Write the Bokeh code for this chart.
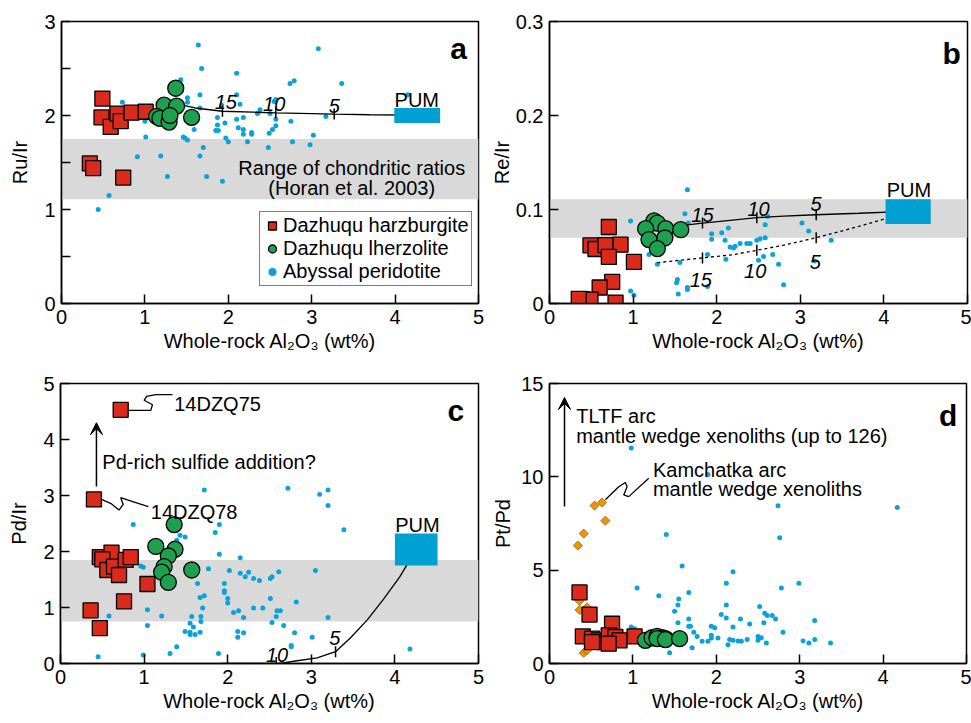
import math
from bokeh.plotting import figure
from bokeh.models import Range1d, FixedTicker, Legend, LegendItem, Arrow, VeeHead, BoxAnnotation
from bokeh.layouts import column, row
from bokeh.embed import file_html
from bokeh.resources import INLINE
from bokeh.core.properties import value

FONT = "Liberation Sans"
RED = "#DA2A1C"
GREEN = "#1DA050"
BLUE = "#0AA3D9"
PUMC = "#00A0D2"
ORANGE = "#F39200"
BAND = "#D9D9D9"

# ---------------- panel a : Ru/Ir ----------------
a_harz_x = [0.49, 0.48, 0.59, 0.67, 0.71, 0.84, 1.01, 0.34, 0.38, 0.74]
a_harz_y = [2.18, 1.98, 1.88, 2.02, 1.94, 2.03, 2.04, 1.49, 1.44, 1.34]
a_lherz_x = [1.37, 1.23, 1.38, 1.14, 1.18, 1.29, 1.30, 1.56]
a_lherz_y = [2.29, 2.11, 2.10, 1.99, 1.97, 1.93, 2.00, 1.98]
a_aby_x = [1.64, 3.08, 1.68, 2.10, 1.43, 3.36, 2.79, 2.74, 2.10, 1.66, 4.15, 1.51, 0.73, 2.14, 1.51,
           1.92, 1.66, 2.55, 2.57, 2.38, 2.35, 2.50, 1.87, 2.18, 2.10, 2.57, 3.17, 1.00, 1.96, 1.87,
           2.75, 2.57, 1.59, 2.12, 2.18, 1.85, 1.88, 2.53, 2.28, 2.28, 2.18, 2.49, 1.46, 1.48, 1.51,
           1.01, 3.02, 1.97, 2.00, 2.23, 2.77, 2.98, 1.70, 2.48, 0.91, 1.66, 1.19, 1.27, 1.74, 1.93,
           0.57, 0.44]
a_aby_y = [2.75, 2.71, 2.50, 2.45, 2.38, 2.34, 2.37, 2.34, 2.22, 2.22, 2.22, 2.19, 2.14, 2.12, 2.14,
           2.11, 2.08, 2.15, 2.17, 2.06, 2.02, 2.02, 1.98, 1.98, 1.96, 1.96, 1.99, 1.94, 1.92, 1.90,
           1.94, 1.89, 1.85, 1.87, 1.85, 1.84, 1.84, 1.85, 1.82, 1.80, 1.80, 1.81, 1.77, 1.76, 1.74,
           1.77, 1.79, 1.76, 1.72, 1.72, 1.72, 1.69, 1.66, 1.66, 1.56, 1.57, 1.57, 1.35, 1.35, 1.30,
           1.15, 1.00]
a_model_x = [1.45, 1.60, 1.93, 2.30, 2.57, 3.00, 3.27, 3.70, 4.15]
a_model_y = [2.11, 2.08, 2.045, 2.035, 2.028, 2.02, 2.015, 2.008, 2.005]
a_mtick_x = [1.93, 2.57, 3.27]
a_mtick_y = [2.045, 2.028, 2.015]
a_mlab_x = [1.97, 2.55, 3.27]
a_mlab_y = [2.14, 2.12, 2.10]
a_mlab = ["15", "10", "5"]
a_pum = [3.99, 4.54, 1.92, 2.08]          # left, right, bottom, top
a_band = [1.11, 1.75]

# ---------------- panel b : Re/Ir ----------------
b_harz_x = [0.71, 0.49, 0.55, 0.67, 0.85, 0.71, 1.01, 0.75, 0.60, 0.39, 0.49, 0.79, 0.35]
b_harz_y = [0.0814, 0.0619, 0.058, 0.062, 0.0626, 0.0495, 0.0442, 0.023, 0.017, 0.0046, 0.0042, 0.001, 0.005]
b_lherz_x = [1.25, 1.29, 1.15, 1.39, 1.19, 1.38, 1.29, 1.57]
b_lherz_y = [0.088, 0.0856, 0.0796, 0.0796, 0.068, 0.0697, 0.0584, 0.0785]
b_aby_x = [1.65, 1.62, 1.66, 0.97, 1.94, 1.94, 2.06, 2.14, 2.10, 2.16, 2.20, 2.22, 2.28, 2.36, 2.40,
           2.48, 2.52, 2.58, 2.58, 2.61, 3.02, 3.10, 3.37, 2.67, 2.56, 2.74, 2.80, 2.50, 3.17, 1.89,
           2.11, 1.56, 1.29, 1.19, 1.53, 1.52, 1.65, 1.65, 1.89, 1.54, 0.97, 1.01]
b_aby_y = [0.121, 0.0955, 0.0856, 0.0877, 0.0743, 0.0683, 0.0753, 0.0803, 0.0672, 0.0601, 0.0591,
           0.0608, 0.0637, 0.0637, 0.0637, 0.0672, 0.069, 0.070, 0.0838, 0.0927, 0.0856, 0.0771,
           0.0672, 0.052, 0.050, 0.0417, 0.020, 0.046, 0.0453, 0.052, 0.047, 0.0435, 0.0417, 0.052,
           0.0255, 0.022, 0.017, 0.015, 0.018, 0.010, 0.0134, 0.0088]
b_model1_x = [1.19, 1.40, 1.60, 1.83, 2.10, 2.48, 2.80, 3.19, 3.70, 4.28]
b_model1_y = [0.077, 0.080, 0.083, 0.0856, 0.088, 0.0913, 0.093, 0.0944, 0.096, 0.098]
b_model2_x = [1.29, 1.83, 2.20, 2.48, 2.80, 3.19, 3.70, 4.28]
b_model2_y = [0.0435, 0.0485, 0.052, 0.0566, 0.062, 0.070, 0.082, 0.097]
b_mtick_x = [1.83, 2.48, 3.19, 1.83, 2.48, 3.19]
b_mtick_y = [0.0856, 0.0913, 0.0944, 0.0485, 0.0566, 0.070]
b_mlab_x = [1.83, 2.50, 3.19, 1.81, 2.46, 3.18]
b_mlab_y = [0.094, 0.101, 0.106, 0.025, 0.035, 0.044]
b_mlab = ["15", "10", "5", "15", "10", "5"]
b_pum = [4.02, 4.56, 0.0845, 0.111]
b_band = [0.07, 0.111]

# ---------------- panel c : Pd/Ir ----------------
c_harz_x = [0.72, 0.40, 0.47, 0.61, 0.50, 0.56, 0.64, 0.78, 0.84, 0.70, 1.04, 0.76, 0.36, 0.47]
c_harz_y = [4.53, 2.93, 1.90, 1.98, 1.86, 1.67, 1.73, 1.85, 1.90, 1.58, 1.42, 1.11, 0.95, 0.63]
c_lherz_x = [1.36, 1.14, 1.37, 1.29, 1.24, 1.21, 1.29, 1.57]
c_lherz_y = [2.48, 2.09, 2.04, 1.92, 1.73, 1.63, 1.45, 1.67]
c_aby_x = [1.72, 2.72, 3.10, 3.20, 3.20, 3.39, 0.87, 1.90, 1.85, 1.43, 1.49, 1.39, 1.90, 2.15, 0.96,
           0.99, 1.77, 2.02, 3.05, 2.61, 2.15, 2.25, 2.21, 2.31, 2.38, 2.53, 2.51, 1.64, 1.96, 1.96,
           1.96, 1.72, 1.67, 2.00, 2.00, 2.51, 2.82, 1.70, 2.31, 2.42, 1.04, 2.13, 2.07, 2.59, 2.63,
           2.58, 0.58, 1.21, 1.57, 1.68, 2.19, 3.20, 1.68, 2.53, 1.55, 1.59, 2.67, 1.49, 1.55, 1.67,
           1.61, 1.55, 1.04, 2.12, 2.19, 2.12, 2.80, 3.01, 1.39, 2.76, 2.76, 1.31, 1.89, 0.99, 0.45,
           4.18]
c_aby_y = [3.10, 3.13, 3.02, 3.10, 2.82, 2.39, 2.48, 2.48, 2.34, 2.29, 2.26, 2.20, 1.95, 1.89, 1.74,
           1.72, 1.69, 1.66, 1.66, 1.64, 1.61, 1.63, 1.55, 1.52, 1.48, 1.55, 1.52, 1.43, 1.43, 1.30,
           1.27, 1.21, 1.18, 1.16, 1.08, 1.16, 1.10, 0.99, 0.99, 0.99, 0.96, 0.94, 0.91, 0.94, 0.94,
           0.84, 0.85, 0.85, 0.84, 0.84, 0.82, 0.82, 0.75, 0.73, 0.72, 0.65, 0.68, 0.57, 0.56, 0.56,
           0.52, 0.52, 0.68, 0.57, 0.55, 0.47, 0.55, 0.47, 0.30, 0.32, 0.30, 0.18, 0.18, 0.15, 0.12,
           0.26]
c_model_x = [4.25, 4.06, 3.86, 3.67, 3.47, 3.29, 3.07, 2.79, 2.63, 1.93]
c_model_y = [2.03, 1.55, 1.14, 0.78, 0.46, 0.21, 0.10, 0.04, 0.0, 0.0]
c_mtick_x = [2.58, 3.29]
c_mtick_y = [0.02, 0.21]
c_mlab_x = [2.59, 3.28]
c_mlab_y = [0.16, 0.46]
c_mlab = ["10", "5"]
c_pum = [4.00, 4.51, 1.75, 2.32]
c_band = [0.75, 1.85]
c_arrow = [0.43, 3.16, 0.43, 4.30]        # x_start, y_start, x_end, y_end
c_sq75_x = [0.80, 1.08, 1.10, 1.00, 1.03, 1.14, 1.34]
c_sq75_y = [4.52, 4.52, 4.62, 4.70, 4.77, 4.80, 4.80]
c_sq78_x = [0.49, 0.60, 0.70, 0.75, 0.72, 0.80, 1.05]
c_sq78_y = [2.93, 2.86, 2.74, 2.84, 2.96, 2.92, 2.80]

# ---------------- panel d : Pt/Pd ----------------
d_kam_x = [0.54, 0.63, 0.67, 0.41, 0.34, 0.36, 0.36, 0.45, 0.41, 0.45]
d_kam_y = [8.46, 8.62, 7.65, 6.96, 6.32, 3.36, 2.87, 3.01, 0.57, 0.71]
d_harz_x = [0.36, 0.48, 0.75, 0.40, 0.51, 0.59, 0.67, 0.71, 0.79, 0.84, 1.02, 0.71, 0.51]
d_harz_y = [3.81, 2.62, 2.13, 1.45, 1.33, 1.24, 1.15, 1.51, 1.42, 1.24, 1.45, 1.06, 1.15]
d_lherz_x = [1.15, 1.23, 1.29, 1.35, 1.39, 1.29, 1.39, 1.56]
d_lherz_y = [1.24, 1.38, 1.45, 1.38, 1.33, 1.33, 1.28, 1.33]
d_aby_x = [0.98, 1.90, 2.74, 4.17, 1.40, 2.76, 1.59, 2.20, 2.12, 2.99, 1.05, 2.78, 1.67, 1.31, 1.55,
           1.54, 2.12, 2.52, 1.50, 2.58, 2.61, 2.67, 2.71, 2.06, 2.12, 2.29, 1.67, 3.18, 1.54, 2.40,
           2.57, 1.67, 1.69, 1.94, 1.98, 2.20, 0.98, 1.02, 1.73, 1.77, 1.94, 2.80, 2.02, 1.94, 2.50,
           2.54, 2.50, 2.16, 2.20, 2.26, 2.30, 2.37, 3.18, 3.04, 3.11, 3.37, 2.60, 2.14, 1.83, 1.90,
           1.63, 1.71, 1.44, 1.41]
d_aby_y = [11.55, 10.13, 8.45, 8.36, 6.91, 6.73, 5.22, 4.91, 4.30, 4.30, 4.04, 4.04, 3.81, 3.63, 3.45,
           3.13, 3.13, 3.05, 2.80, 2.69, 2.57, 2.57, 2.39, 2.62, 2.44, 2.39, 2.39, 2.30, 2.18, 2.12,
           2.18, 2.00, 2.00, 2.00, 1.91, 1.95, 1.95, 1.86, 1.68, 1.45, 1.51, 1.68, 1.36, 1.36, 1.45,
           1.38, 1.24, 1.28, 1.24, 1.20, 1.19, 1.28, 1.28, 1.20, 1.10, 1.10, 1.10, 1.01, 1.19, 1.19,
           1.28, 0.85, 0.58, 0.97]
d_arrow = [0.18, 8.41, 0.18, 14.25]
d_sq_x = [0.67, 0.83, 0.91, 0.93, 0.89, 0.95, 1.19]
d_sq_y = [8.77, 9.47, 9.70, 9.47, 9.03, 8.94, 9.92]

XLABEL = "Whole-rock Al\u2082O\u2083 (wt%)"


def make_fig(w, h, bl, br, bt, bb, ymax, yticks, yminor, ylabel, als):
    p = figure(width=w, height=h, x_range=Range1d(0, 5), y_range=Range1d(0, ymax),
               output_backend="svg", toolbar_location=None,
               min_border_left=bl, min_border_right=br, min_border_top=bt, min_border_bottom=bb)
    p.xgrid.visible = False
    p.ygrid.visible = False
    p.outline_line_color = "black"
    p.outline_line_width = 1.5
    p.outline_line_alpha = 1.0
    p.background_fill_color = "white"
    p.border_fill_color = "white"
    for ax in (p.xaxis[0], p.yaxis[0]):
        ax.axis_line_width = 1.5
        ax.axis_line_color = "black"
        ax.major_tick_in = 9
        ax.major_tick_out = 0
        ax.major_tick_line_width = 1.5
        ax.minor_tick_in = 9
        ax.minor_tick_out = 0
        ax.minor_tick_line_width = 1.5
        ax.major_label_text_font = FONT
        ax.major_label_text_font_size = "20px"
        ax.major_label_text_color = "black"
        ax.major_label_standoff = 6
        ax.axis_label_text_font = FONT
        ax.axis_label_text_font_size = "20px"
        ax.axis_label_text_font_style = "normal"
        ax.axis_label_text_color = "black"
    p.xaxis[0].ticker = FixedTicker(ticks=[0, 1, 2, 3, 4, 5], minor_ticks=[])
    p.xaxis[0].axis_label = XLABEL
    p.xaxis[0].axis_label_standoff = 3
    p.yaxis[0].ticker = FixedTicker(ticks=yticks, minor_ticks=yminor)
    p.yaxis[0].axis_label = ylabel
    p.yaxis[0].axis_label_standoff = als
    return p


def band(p, lims):
    p.add_layout(BoxAnnotation(bottom=lims[0], top=lims[1], fill_color=BAND, fill_alpha=1.0,
                               line_color=None, level="underlay"))


def pum(p, r):
    p.quad(left=[r[0]], right=[r[1]], bottom=[r[2]], top=[r[3]], fill_color=PUMC, line_color=None)


def txt(p, xs, ys, ts, size="20px", align="left", style="normal", baseline="alphabetic"):
    p.text(x=xs, y=ys, text=ts, text_font=value(FONT), text_font_size=size, text_align=align,
           text_baseline=baseline, text_font_style=style, text_color="black")


def dots(p, x, y):
    return p.scatter(x, y, marker="circle", size=5, fill_color=BLUE, line_color=None)


def squares(p, x, y):
    return p.scatter(x, y, marker="square", size=15, fill_color=RED, line_color="black", line_width=1.3)


def circles(p, x, y):
    return p.scatter(x, y, marker="circle", size=16, fill_color=GREEN, line_color="black", line_width=1.3)


def mticks(p, x, y):
    p.scatter(x, y, marker="dash", angle=math.pi / 2, size=11, line_color="black", line_width=1.5)


# ----- panel a -----
pa = make_fig(485, 360, 61, 7, 21, 56, 3, [0, 1, 2, 3], [0.5, 1.5, 2.5], "Ru/Ir", 10)
band(pa, a_band)
ra_dot = dots(pa, a_aby_x, a_aby_y)
pa.line(a_model_x, a_model_y, line_color="black", line_width=1.3)
mticks(pa, a_mtick_x, a_mtick_y)
txt(pa, a_mlab_x, a_mlab_y, a_mlab, size="20px", align="center", style="italic")
pum(pa, a_pum)
txt(pa, [4.26], [2.16], ["PUM"], align="center")
ra_sq = squares(pa, a_harz_x, a_harz_y)
ra_ci = circles(pa, a_lherz_x, a_lherz_y)
txt(pa, [3.48, 3.48], [1.445, 1.227], ["Range of chondritic ratios", "(Horan et al. 2003)"], align="center")
txt(pa, [4.86], [2.71], ["a"], size="30px", align="right", style="bold")
leg = Legend(items=[LegendItem(label="Dazhuqu harzburgite", renderers=[ra_sq]),
                    LegendItem(label="Dazhuqu lherzolite", renderers=[ra_ci]),
                    LegendItem(label="Abyssal peridotite", renderers=[ra_dot])],
             location=(198, 17), orientation="vertical")
leg.label_text_font = FONT
leg.label_text_font_size = "20px"
leg.label_text_color = "black"
leg.border_line_color = "black"
leg.border_line_width = 1.5
leg.background_fill_alpha = 1.0
leg.padding = 2
leg.spacing = 0
leg.margin = 0
leg.glyph_width = 20
leg.glyph_height = 23
leg.label_height = 23
leg.label_standoff = 1
pa.add_layout(leg)

# ----- panel b -----
pb = make_fig(486, 360, 64, 4, 21, 57, 0.3, [0, 0.1, 0.2, 0.3], [], "Re/Ir", 0)
band(pb, b_band)
dots(pb, b_aby_x, b_aby_y)
pb.line(b_model1_x, b_model1_y, line_color="black", line_width=1.3)
pb.line(b_model2_x, b_model2_y, line_color="black", line_width=1.3, line_dash="3 3")
mticks(pb, b_mtick_x, b_mtick_y)
txt(pb, b_mlab_x, b_mlab_y, b_mlab, size="20px", align="center", style="italic")
pum(pb, b_pum)
txt(pb, [4.30], [0.121], ["PUM"], align="center")
squares(pb, b_harz_x, b_harz_y)
circles(pb, b_lherz_x, b_lherz_y)
txt(pb, [4.92], [0.266], ["b"], size="30px", align="right", style="bold")

# ----- panel c -----
pc = make_fig(485, 363, 60, 7, 23, 59, 5, [0, 1, 2, 3, 4, 5], [], "Pd/Ir", 10)
band(pc, c_band)
dots(pc, c_aby_x, c_aby_y)
pc.line(c_model_x, c_model_y, line_color="black", line_width=1.3)
mticks(pc, c_mtick_x, c_mtick_y)
txt(pc, c_mlab_x, c_mlab_y, c_mlab, size="20px", align="center", style="italic")
pum(pc, c_pum)
txt(pc, [4.27], [2.47], ["PUM"], align="center")
pc.line(c_sq75_x, c_sq75_y, line_color="black", line_width=1.3)
pc.line(c_sq78_x, c_sq78_y, line_color="black", line_width=1.3)
pc.add_layout(Arrow(end=VeeHead(size=12, fill_color="black", line_color="black"),
                    x_start=c_arrow[0], y_start=c_arrow[1], x_end=c_arrow[2], y_end=c_arrow[3],
                    line_width=1.5, line_color="black"))
squares(pc, c_harz_x, c_harz_y)
circles(pc, c_lherz_x, c_lherz_y)
txt(pc, [1.36, 1.08, 0.50], [4.64, 2.70, 3.60], ["14DZQ75", "14DZQ78", "Pd-rich sulfide addition?"])
txt(pc, [4.83], [4.51], ["c"], size="30px", align="right", style="bold")

# ----- panel d -----
pd = make_fig(486, 363, 64, 5, 21, 60, 15, [0, 5, 10, 15], [], "Pt/Pd", 4)
dots(pd, d_aby_x, d_aby_y)
pd.line(d_sq_x, d_sq_y, line_color="black", line_width=1.3)
pd.scatter(d_kam_x, d_kam_y, marker="square", angle=math.pi / 4, size=6.5, fill_color=ORANGE,
           line_color="#7a4a00", line_width=0.6)
pd.add_layout(Arrow(end=VeeHead(size=12, fill_color="black", line_color="black"),
                    x_start=d_arrow[0], y_start=d_arrow[1], x_end=d_arrow[2], y_end=d_arrow[3],
                    line_width=1.5, line_color="black"))
squares(pd, d_harz_x, d_harz_y)
circles(pd, d_lherz_x, d_lherz_y)
txt(pd, [0.32, 0.32, 1.24, 1.24], [13.25, 12.18, 10.39, 9.33],
    ["TLTF arc", "mantle wedge xenoliths (up to 126)", "Kamchatka arc", "mantle wedge xenoliths"])
txt(pd, [4.89], [13.28], ["d"], size="30px", align="right", style="bold")

layout = column(row(pa, pb), row(pc, pd))
open("out.html", "w").write(file_html(layout, INLINE))
